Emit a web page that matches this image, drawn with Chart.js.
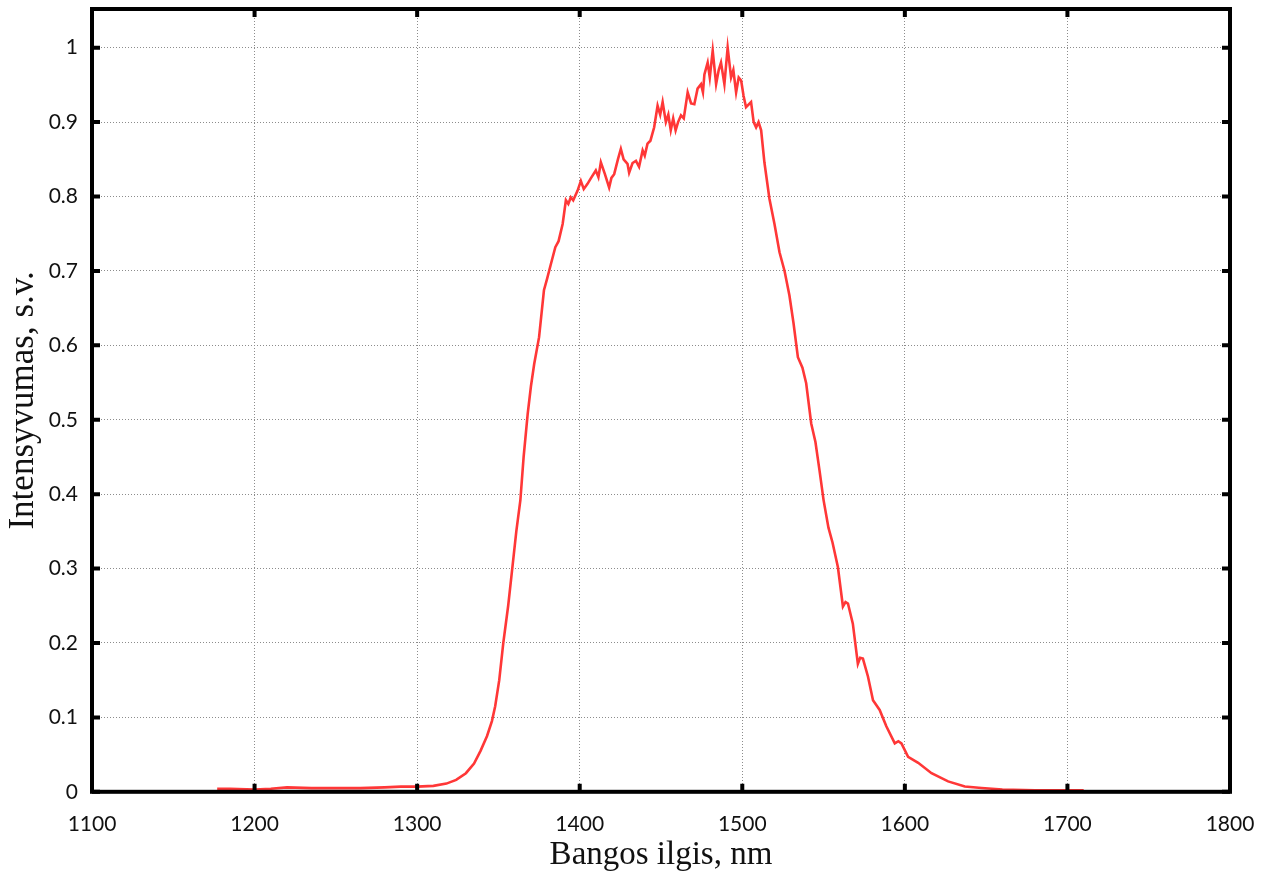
<!DOCTYPE html>
<html>
<head>
<meta charset="utf-8">
<script src="https://cdn.jsdelivr.net/npm/chart.js@4/dist/chart.umd.min.js"></script>
<style>
    html, body { margin: 0; padding: 0; background: #fff; }
    #wrap { width: 1272px; height: 874px; position: relative; }
</style>
</head>
<body>
<div id="wrap"><canvas id="spectrum"></canvas></div>
<script>
// ------------------ DATA ------------------
const wavelengths = [
    1177, 1185, 1200, 1210, 1220, 1235, 1250, 1265, 1280, 1290, 1300, 1310, 1318, 1324, 1330,
    1335, 1339, 1343, 1346, 1348, 1350.5, 1353, 1356, 1358.5, 1361, 1363.5, 1365.5, 1368, 1370,
    1372, 1375, 1378, 1380, 1382, 1385, 1387, 1389.5, 1391.5, 1393, 1394.5, 1396, 1398.7, 1400.7,
    1402.5, 1404.8, 1407, 1409.9, 1411.5, 1413, 1415.5, 1418.1, 1419.5, 1421.2, 1423.5, 1425.3,
    1427, 1429.4, 1430.4, 1432.5, 1434.6, 1436.5, 1438.7, 1440, 1441.7, 1443.5, 1445.8, 1447.9,
    1449.5, 1451, 1453, 1454.5, 1456, 1457.5, 1459, 1460.5, 1462.3, 1464, 1466.4, 1468.5, 1470.5,
    1472.5, 1474.6, 1475.8, 1476.7, 1478.7, 1480, 1481.8, 1483.9, 1485.5, 1486.9, 1489, 1491,
    1493.1, 1494.5, 1496.2, 1497.8, 1499.3, 1500.8, 1502.3, 1505.4, 1507, 1508.5, 1510, 1511.6,
    1513.6, 1516.7, 1519.8, 1522.9, 1526, 1529, 1531.5, 1534.2, 1537, 1539.3, 1542.4, 1545,
    1547.5, 1550, 1553, 1555.5, 1558.8, 1561.9, 1563.5, 1565, 1568, 1571.1, 1572.5, 1574.2,
    1577.3, 1580.4, 1584.5, 1588.6, 1593.8, 1596, 1597.9, 1602, 1608.2, 1616.4, 1626.6, 1636.9,
    1647.2, 1660, 1680, 1700, 1710
];
const intensity = [
    0.004, 0.004, 0.003, 0.004, 0.006, 0.005, 0.005, 0.005, 0.006, 0.007, 0.007, 0.008, 0.011, 0.016, 0.025,
    0.038, 0.055, 0.075, 0.095, 0.115, 0.15, 0.2, 0.25, 0.3, 0.35, 0.392, 0.45, 0.508, 0.545,
    0.575, 0.611, 0.674, 0.69, 0.707, 0.732, 0.74, 0.763, 0.795, 0.79, 0.799, 0.795, 0.808, 0.821,
    0.81, 0.817, 0.825, 0.835, 0.826, 0.846, 0.83, 0.812, 0.825, 0.83, 0.85, 0.864,
    0.85, 0.844, 0.832, 0.845, 0.848, 0.84, 0.862, 0.855, 0.871, 0.875, 0.893, 0.922,
    0.91, 0.927, 0.9, 0.91, 0.889, 0.905, 0.889, 0.9, 0.909, 0.905, 0.94, 0.925, 0.924,
    0.945, 0.951, 0.94, 0.964, 0.98, 0.96, 0.996, 0.951, 0.97, 0.98, 0.951, 1.0,
    0.96, 0.97, 0.94, 0.96, 0.956, 0.935, 0.92, 0.927, 0.9, 0.893, 0.9, 0.889,
    0.846, 0.797, 0.763, 0.725, 0.7, 0.667, 0.63, 0.584, 0.57, 0.549, 0.495, 0.47,
    0.432, 0.392, 0.355, 0.335, 0.302, 0.249, 0.255, 0.253, 0.226, 0.172, 0.18, 0.179,
    0.155, 0.123, 0.11, 0.088, 0.065, 0.068, 0.065, 0.047, 0.039, 0.025, 0.014, 0.007,
    0.005, 0.003, 0.002, 0.002, 0.002
];
const xTicks = [1100, 1200, 1300, 1400, 1500, 1600, 1700, 1800];
const yTicks = [0, 0.1, 0.2, 0.3, 0.4, 0.5, 0.6, 0.7, 0.8, 0.9, 1];
const yLabels = ['0', '0.1', '0.2', '0.3', '0.4', '0.5', '0.6', '0.7', '0.8', '0.9', '1'];

// ------------------ FRAME + INWARD TICKS ------------------
const framePlugin = {
    id: 'frame',
    afterDatasetsDraw(chart) {
        const { ctx, chartArea: a, scales } = chart;
        ctx.save();
        ctx.strokeStyle = '#000';
        ctx.lineWidth = 4;
        ctx.beginPath();
        xTicks.forEach(v => {
            const px = scales.x.getPixelForValue(v);
            ctx.moveTo(px, a.bottom); ctx.lineTo(px, a.bottom - 8);
            ctx.moveTo(px, a.top); ctx.lineTo(px, a.top + 8);
        });
        yTicks.forEach(v => {
            const py = scales.y.getPixelForValue(v);
            ctx.moveTo(a.left, py); ctx.lineTo(a.left + 8, py);
            ctx.moveTo(a.right, py); ctx.lineTo(a.right - 8, py);
        });
        ctx.stroke();
        ctx.strokeRect(a.left, a.top, a.right - a.left, a.bottom - a.top);
        ctx.restore();
    }
};

// ------------------ CHART ------------------
function initChart() {
    const ctx = document.getElementById('spectrum').getContext('2d');
    new Chart(ctx, {
        type: 'line',
        data: {
            datasets: [{
                data: wavelengths.map((w, i) => ({ x: w, y: intensity[i] })),
                borderColor: 'rgb(255, 55, 55)',
                borderWidth: 2.6,
                pointRadius: 0,
                tension: 0,
                fill: false,
            }],
        },
        options: {
            responsive: true,
            maintainAspectRatio: false,
            animation: false,
            layout: { padding: { top: 9, right: 42, left: 6, bottom: 2 } },
            plugins: { legend: { display: false }, tooltip: { enabled: false } },
            scales: {
                x: {
                    type: 'linear',
                    min: 1100,
                    max: 1800,
                    afterBuildTicks: axis => { axis.ticks = xTicks.map(v => ({ value: v })); },
                    afterFit: axis => { axis.paddingLeft = 0; axis.paddingRight = 0; },
                    border: { display: false, dash: [1, 2] },
                    grid: { color: '#8c8c8c', lineWidth: 1, drawTicks: false },
                    ticks: {
                        color: '#111',
                        padding: 20,
                        maxRotation: 0,
                        font: { family: 'Lato', size: 21 },
                        callback: (v) => String(v),
                    },
                    title: {
                        display: true,
                        text: 'Bangos ilgis, nm',
                        color: '#111',
                        padding: { top: -18, bottom: 0 },
                        font: { family: '"Liberation Serif", "Times New Roman", serif', size: 33, lineHeight: 1.0 },
                    },
                },
                y: {
                    min: 0,
                    max: 1.052,
                    afterBuildTicks: axis => { axis.ticks = yTicks.map(v => ({ value: v })); },
                    afterFit: axis => { axis.width = 86; axis.paddingTop = 0; axis.paddingBottom = 0; },
                    border: { display: false, dash: [1, 2] },
                    grid: { color: '#8c8c8c', lineWidth: 1, drawTicks: false },
                    ticks: {
                        color: '#111',
                        padding: 14,
                        font: { family: 'Lato', size: 21 },
                        callback: (v) => yLabels[yTicks.indexOf(v)] ?? '',
                    },
                    title: {
                        display: true,
                        text: 'Intensyvumas, s.v.',
                        color: '#111',
                        padding: { top: 0, bottom: 0 },
                        font: { family: '"Liberation Serif", "Times New Roman", serif', size: 35, lineHeight: 1.0 },
                    },
                },
            },
        },
        plugins: [framePlugin],
    });
}

document.addEventListener('DOMContentLoaded', initChart);
</script>
</body>
</html>
